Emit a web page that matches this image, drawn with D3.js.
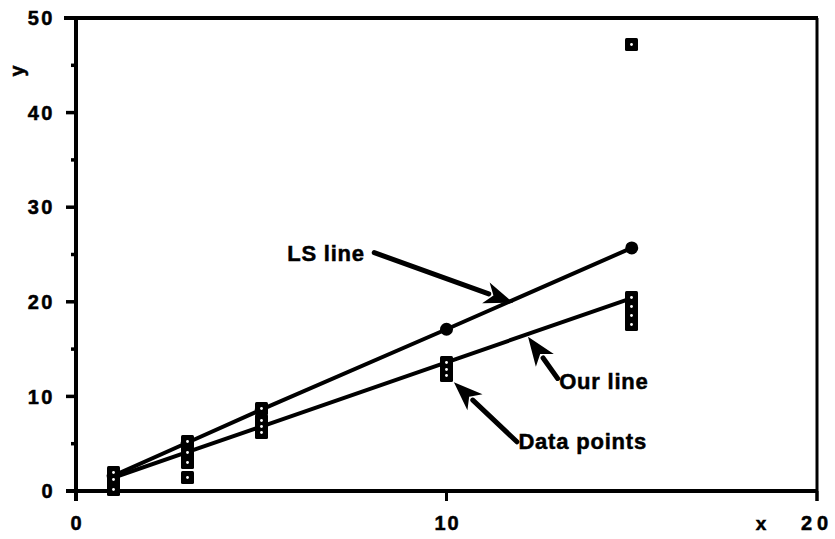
<!DOCTYPE html>
<html>
<head>
<meta charset="utf-8">
<script src="https://cdn.jsdelivr.net/npm/d3@7/dist/d3.min.js"></script>
<style>
  html, body { margin: 0; padding: 0; background: #fff; }
  svg { display: block; }
  text { font-family: "Liberation Sans", Arial, Helvetica, sans-serif; font-weight: bold; fill: #000;
         stroke: #000; stroke-width: 0.5px; }
</style>
</head>
<body>
<svg id="chart" width="835" height="539"></svg>
<script>
// x positions shared by all series
const xs = [1, 3, 5, 10, 15];

// observed data points (x, y)
const dataX = [1, 1, 1, 3, 3, 3, 3, 5, 5, 5, 5, 10, 10, 10, 15, 15, 15, 15, 15];
const dataY = [2.0, 1.2, 0.2, 5.2, 4.1, 3.0, 1.4, 8.7, 7.5, 6.8, 6.2, 13.6, 12.8, 12.2, 20.5, 19.5, 18.5, 17.6, 47.2];

// least-squares fit values at each x
const lsY = [1.6, 5.1, 8.6, 17.1, 25.7];
// robust fit values at each x
const ourY = [1.4, 4.1, 6.8, 13.6, 20.4];

// axis ticks
const xTicks = [0, 10, 20];
const yTicks = [0, 10, 20, 30, 40, 50];
const yMinor = [5, 15, 25, 35, 45];

// annotation labels: text, anchor point and arrow (tail -> tip) in data units
const labels = ["LS line", "Our line", "Data points"];
const labelAt = [[5.7, 24.3], [13.04, 10.8], [11.94, 4.4]];
const arrowFrom = [[8.05, 25.2], [13.0, 11.9], [11.9, 5.2]];
const arrowTo = [[11.8, 19.9], [12.2, 16.3], [10.2, 11.5]];

const svg = d3.select("#chart");
const x = d3.scaleLinear().domain([0, 20]).range([76, 817]);
const y = d3.scaleLinear().domain([0, 50]).range([491, 18]);

const g = svg.append("g");

// frame: left axis, bottom axis, top and right edges
g.append("line").attr("x1", x(0)).attr("x2", x(0)).attr("y1", y(50)).attr("y2", y(0) + 10)
  .attr("stroke", "#000").attr("stroke-width", 4);
g.append("line").attr("x1", x(0) - 10).attr("x2", x(20)).attr("y1", y(0)).attr("y2", y(0))
  .attr("stroke", "#000").attr("stroke-width", 4);
g.append("line").attr("x1", x(0) - 12).attr("x2", x(20) + 1).attr("y1", y(50)).attr("y2", y(50))
  .attr("stroke", "#000").attr("stroke-width", 4);
g.append("line").attr("x1", x(20)).attr("x2", x(20)).attr("y1", y(50)).attr("y2", y(0) + 10)
  .attr("stroke", "#000").attr("stroke-width", 3);

// y ticks
g.selectAll(".ytick").data(yTicks).join("line")
  .attr("x1", x(0) - 10).attr("x2", x(0)).attr("y1", d => y(d)).attr("y2", d => y(d))
  .attr("stroke", "#000").attr("stroke-width", 3.5);
g.selectAll(".yminor").data(yMinor).join("line")
  .attr("x1", x(0) - 5).attr("x2", x(0)).attr("y1", d => y(d)).attr("y2", d => y(d))
  .attr("stroke", "#000").attr("stroke-width", 3.5);
g.selectAll(".ylab").data(yTicks).join("text")
  .attr("x", 55).attr("y", d => y(d)).attr("dy", "0.36em")
  .attr("text-anchor", "end").attr("font-size", 20).attr("letter-spacing", "2.5px").text(d => d);

// x ticks
g.selectAll(".xtick").data(xTicks).join("line")
  .attr("x1", d => x(d)).attr("x2", d => x(d)).attr("y1", y(0)).attr("y2", y(0) + 10)
  .attr("stroke", "#000").attr("stroke-width", 3);
g.selectAll(".xlab").data(xTicks).join("text")
  .attr("x", d => x(d) + (d === 20 ? 0 : 1)).attr("y", 530)
  .attr("text-anchor", "middle").attr("font-size", 20)
  .attr("letter-spacing", d => d === 20 ? "5px" : "2px").text(d => d);

// axis titles
g.append("text").attr("x", 761).attr("y", 530).attr("text-anchor", "middle").attr("font-size", 19).text("x");
g.append("text").attr("transform", "translate(24,71) rotate(-90)").attr("text-anchor", "middle")
  .attr("font-size", 20).text("y");

const line = d3.line().x(d => x(d[0])).y(d => y(d[1]));

// fitted lines
g.append("path").datum(xs.map((v, i) => [v, lsY[i]])).attr("d", line)
  .attr("fill", "none").attr("stroke", "#000").attr("stroke-width", 4);
g.append("path").datum(xs.map((v, i) => [v, ourY[i]])).attr("d", line)
  .attr("fill", "none").attr("stroke", "#000").attr("stroke-width", 4);

// LS line markers
g.selectAll(".lsdot").data(xs.map((v, i) => [v, lsY[i]])).join("circle")
  .attr("cx", d => x(d[0])).attr("cy", d => y(d[1])).attr("r", 6.5).attr("fill", "#000");

// data point markers: black squares with a tiny light centre
const pts = dataX.map((v, i) => [v, dataY[i]]);
const s = 13;
g.selectAll(".pt").data(pts).join("rect")
  .attr("x", d => Math.round(x(d[0]) - s / 2)).attr("y", d => Math.round(y(d[1]) - s / 2))
  .attr("width", s).attr("height", s).attr("rx", 1.5).attr("fill", "#000");
g.selectAll(".ptc").data(pts).join("circle")
  .attr("cx", d => Math.round(x(d[0]) - s / 2) + s / 2).attr("cy", d => Math.round(y(d[1]) - s / 2) + s / 2)
  .attr("r", 1.4).attr("fill", "#fff");

// annotations with arrows
labels.forEach((t, i) => {
  const x0 = x(arrowFrom[i][0]), y0 = y(arrowFrom[i][1]);
  const x1 = x(arrowTo[i][0]), y1 = y(arrowTo[i][1]);
  const ang = Math.atan2(y1 - y0, x1 - x0);
  const L = 26, W = 11;
  const bx = x1 - L * Math.cos(ang), by = y1 - L * Math.sin(ang);
  g.append("line").attr("x1", x0).attr("y1", y0).attr("x2", bx).attr("y2", by)
    .attr("stroke", "#000").attr("stroke-width", 5).attr("stroke-linecap", "round");
  const p = [
    [x1, y1],
    [bx - W * Math.sin(ang) - 3 * Math.cos(ang), by + W * Math.cos(ang) - 3 * Math.sin(ang)],
    [bx + 5 * Math.cos(ang), by + 5 * Math.sin(ang)],
    [bx + W * Math.sin(ang) - 3 * Math.cos(ang), by - W * Math.cos(ang) - 3 * Math.sin(ang)]
  ];
  g.append("polygon").attr("points", p.map(q => q.join(",")).join(" ")).attr("fill", "#000");
  g.append("text").attr("x", x(labelAt[i][0])).attr("y", y(labelAt[i][1]))
    .attr("font-size", 22).attr("letter-spacing", "0.8px").text(t);
});
</script>
</body>
</html>
